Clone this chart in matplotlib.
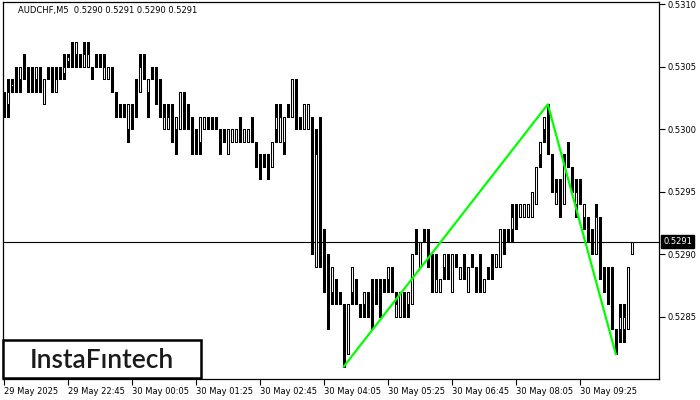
import numpy as np
import matplotlib.pyplot as plt
from matplotlib.patches import Rectangle

# AUDCHF M5 bars (bar 0 = 29 May 21:25)
opens = [
    0.53030, 0.53020, 0.53035, 0.53050, 0.53040, 0.53060, 0.53040, 0.53045, 0.53040, 0.53040,
    0.53020, 0.53050, 0.53050, 0.53030, 0.53050, 0.53045, 0.53055, 0.53070, 0.53060, 0.53060,
    0.53050, 0.53050, 0.53050, 0.53060, 0.53060, 0.53040, 0.53040, 0.53040, 0.53020, 0.53010,
    0.53020, 0.53000, 0.53010, 0.53020, 0.53030, 0.53040, 0.53030, 0.53050, 0.53040, 0.53040,
    0.53000, 0.53000, 0.53020, 0.53000, 0.53000, 0.53020, 0.53000, 0.53010, 0.52990, 0.52990,
    0.53000, 0.53010, 0.53010, 0.53010, 0.52990, 0.53000, 0.52980, 0.52990, 0.52990, 0.53010,
    0.52990, 0.52990, 0.52995, 0.52980, 0.52975, 0.52980, 0.52970, 0.52970, 0.53000, 0.52990,
    0.52990, 0.53020, 0.53010, 0.53030, 0.53010, 0.53000, 0.53000, 0.53000, 0.52890, 0.52990,
    0.52920, 0.52900, 0.52870, 0.52880, 0.52870, 0.52860, 0.52820, 0.52870, 0.52880, 0.52860,
    0.52860, 0.52860, 0.52870, 0.52880, 0.52870, 0.52880, 0.52880, 0.52880, 0.52850, 0.52850,
    0.52860, 0.52860, 0.52860, 0.52910, 0.52890, 0.52920, 0.52920, 0.52900, 0.52870, 0.52870,
    0.52890, 0.52890, 0.52870, 0.52890, 0.52880, 0.52900, 0.52870, 0.52900, 0.52880, 0.52890,
    0.52870, 0.52890, 0.52900, 0.52890, 0.52890, 0.52910, 0.52910, 0.52920, 0.52940, 0.52930,
    0.52930, 0.52930, 0.52930, 0.52940, 0.52980, 0.53000, 0.53000, 0.52970, 0.52940, 0.52960,
    0.52940, 0.52980, 0.52970, 0.52940, 0.52960, 0.52930, 0.52930, 0.52920, 0.52900, 0.52920,
    0.52880, 0.52870, 0.52860, 0.52830, 0.52840, 0.52840, 0.52840, 0.52900,
]
highs = [
    0.53030, 0.53040, 0.53040, 0.53050, 0.53050, 0.53060, 0.53050, 0.53050, 0.53050, 0.53050,
    0.53040, 0.53050, 0.53050, 0.53050, 0.53050, 0.53060, 0.53060, 0.53070, 0.53070, 0.53060,
    0.53070, 0.53070, 0.53050, 0.53060, 0.53060, 0.53060, 0.53050, 0.53050, 0.53030, 0.53020,
    0.53020, 0.53020, 0.53020, 0.53040, 0.53060, 0.53060, 0.53040, 0.53050, 0.53050, 0.53040,
    0.53020, 0.53020, 0.53020, 0.53010, 0.53030, 0.53030, 0.53020, 0.53010, 0.53000, 0.53010,
    0.53010, 0.53010, 0.53010, 0.53010, 0.53000, 0.53000, 0.53000, 0.53000, 0.53000, 0.53010,
    0.53000, 0.53000, 0.53010, 0.52990, 0.52980, 0.52980, 0.52980, 0.52990, 0.53020, 0.53020,
    0.53010, 0.53020, 0.53040, 0.53040, 0.53010, 0.53020, 0.53020, 0.53010, 0.53000, 0.53010,
    0.52920, 0.52900, 0.52890, 0.52880, 0.52870, 0.52860, 0.52860, 0.52890, 0.52880, 0.52860,
    0.52870, 0.52870, 0.52880, 0.52880, 0.52880, 0.52880, 0.52890, 0.52890, 0.52870, 0.52870,
    0.52870, 0.52870, 0.52900, 0.52920, 0.52910, 0.52920, 0.52920, 0.52900, 0.52900, 0.52880,
    0.52900, 0.52900, 0.52900, 0.52900, 0.52890, 0.52900, 0.52890, 0.52900, 0.52890, 0.52900,
    0.52880, 0.52890, 0.52900, 0.52900, 0.52920, 0.52920, 0.52920, 0.52940, 0.52940, 0.52940,
    0.52940, 0.52940, 0.52950, 0.52970, 0.52990, 0.53010, 0.53020, 0.52980, 0.52960, 0.52960,
    0.52980, 0.52990, 0.52970, 0.52960, 0.52960, 0.52940, 0.52930, 0.52920, 0.52940, 0.52930,
    0.52890, 0.52890, 0.52890, 0.52840, 0.52860, 0.52860, 0.52890, 0.52910,
]
lows = [
    0.53010, 0.53010, 0.53030, 0.53030, 0.53030, 0.53040, 0.53030, 0.53030, 0.53030, 0.53030,
    0.53020, 0.53040, 0.53030, 0.53030, 0.53040, 0.53040, 0.53050, 0.53050, 0.53050, 0.53050,
    0.53050, 0.53050, 0.53040, 0.53050, 0.53050, 0.53040, 0.53040, 0.53030, 0.53010, 0.53010,
    0.53010, 0.52990, 0.53000, 0.53010, 0.53030, 0.53040, 0.53010, 0.53040, 0.53020, 0.53010,
    0.53000, 0.53000, 0.52990, 0.52980, 0.53000, 0.53000, 0.53000, 0.52980, 0.52980, 0.52980,
    0.53000, 0.53000, 0.53000, 0.53000, 0.52980, 0.52990, 0.52980, 0.52990, 0.52990, 0.52990,
    0.52990, 0.52990, 0.52990, 0.52970, 0.52960, 0.52970, 0.52960, 0.52970, 0.52990, 0.52990,
    0.52980, 0.53010, 0.53010, 0.53000, 0.53000, 0.53000, 0.53000, 0.52900, 0.52890, 0.52890,
    0.52870, 0.52840, 0.52860, 0.52860, 0.52860, 0.52810, 0.52820, 0.52860, 0.52860, 0.52850,
    0.52850, 0.52850, 0.52840, 0.52860, 0.52850, 0.52870, 0.52870, 0.52870, 0.52850, 0.52850,
    0.52850, 0.52850, 0.52860, 0.52900, 0.52890, 0.52910, 0.52890, 0.52870, 0.52870, 0.52870,
    0.52880, 0.52880, 0.52870, 0.52890, 0.52880, 0.52880, 0.52870, 0.52890, 0.52870, 0.52870,
    0.52870, 0.52880, 0.52880, 0.52890, 0.52890, 0.52900, 0.52910, 0.52910, 0.52920, 0.52930,
    0.52930, 0.52930, 0.52930, 0.52940, 0.52970, 0.52990, 0.52980, 0.52950, 0.52940, 0.52930,
    0.52940, 0.52970, 0.52950, 0.52930, 0.52940, 0.52920, 0.52910, 0.52900, 0.52900, 0.52880,
    0.52870, 0.52860, 0.52840, 0.52820, 0.52830, 0.52830, 0.52840, 0.52900,
]
closes = [
    0.53010, 0.53030, 0.53036, 0.53030, 0.53050, 0.53050, 0.53040, 0.53040, 0.53050, 0.53030,
    0.53040, 0.53040, 0.53040, 0.53040, 0.53040, 0.53050, 0.53058, 0.53050, 0.53070, 0.53060,
    0.53060, 0.53060, 0.53050, 0.53050, 0.53050, 0.53050, 0.53050, 0.53030, 0.53020, 0.53010,
    0.53010, 0.53020, 0.53010, 0.53020, 0.53050, 0.53040, 0.53040, 0.53040, 0.53020, 0.53010,
    0.53010, 0.53010, 0.53010, 0.53010, 0.53030, 0.53010, 0.53000, 0.52990, 0.52990, 0.53010,
    0.53010, 0.53010, 0.53000, 0.53000, 0.52990, 0.52990, 0.53000, 0.53000, 0.53000, 0.53000,
    0.53000, 0.53000, 0.52990, 0.52980, 0.52970, 0.52980, 0.52960, 0.52990, 0.53010, 0.53010,
    0.53010, 0.53020, 0.53040, 0.53000, 0.53010, 0.53020, 0.53020, 0.52900, 0.52980, 0.52890,
    0.52890, 0.52860, 0.52890, 0.52880, 0.52870, 0.52810, 0.52860, 0.52890, 0.52860, 0.52860,
    0.52870, 0.52860, 0.52870, 0.52880, 0.52860, 0.52880, 0.52890, 0.52870, 0.52860, 0.52870,
    0.52850, 0.52870, 0.52900, 0.52900, 0.52910, 0.52910, 0.52900, 0.52880, 0.52880, 0.52880,
    0.52900, 0.52880, 0.52900, 0.52890, 0.52890, 0.52880, 0.52890, 0.52890, 0.52880, 0.52880,
    0.52880, 0.52890, 0.52900, 0.52900, 0.52920, 0.52900, 0.52910, 0.52930, 0.52940, 0.52940,
    0.52940, 0.52940, 0.52950, 0.52970, 0.52990, 0.53010, 0.52980, 0.52950, 0.52950, 0.52950,
    0.52970, 0.52980, 0.52950, 0.52950, 0.52940, 0.52940, 0.52910, 0.52910, 0.52930, 0.52890,
    0.52880, 0.52860, 0.52840, 0.52830, 0.52850, 0.52850, 0.52890, 0.52910,
]

time_labels = ["29 May 2025", "29 May 22:45", "30 May 00:05", "30 May 01:25", "30 May 02:45",
               "30 May 04:05", "30 May 05:25", "30 May 06:45", "30 May 08:05", "30 May 09:25"]
label_bars = [0, 16, 32, 48, 64, 80, 96, 112, 128, 144]
price_ticks = [0.5285, 0.5290, 0.5295, 0.5300, 0.5305, 0.5310]
last_price = 0.5291
header = "AUDCHF,M5  0.5290 0.5291 0.5290 0.5291"

# green pattern line (low - high - low)
pattern_bars = [85, 136, 153]
pattern_prices = [0.52810, 0.53020, 0.52820]

o = np.array(opens)
h = np.array(highs)
l = np.array(lows)
c = np.array(closes)
x = np.arange(len(c))

fig = plt.figure(figsize=(7, 4), dpi=100)
ax = fig.add_axes([3 / 700, 21 / 400, 656 / 700, 377 / 400])

ax.axhline(last_price, color="black", lw=0.8, zorder=1)

# wicks
ax.vlines(x, l, h, color="black", lw=0.75, zorder=2, antialiased=False)

# bodies
up = c > o
dn = c < o
eq = c == o
ax.bar(x[up], (c - o)[up], bottom=o[up], width=0.5, facecolor="white",
       edgecolor="black", linewidth=0.75, zorder=3)
ax.bar(x[dn], (o - c)[dn], bottom=c[dn], width=0.5, facecolor="black",
       edgecolor="black", linewidth=0.75, zorder=3)
ax.hlines(c[eq], x[eq] - 0.3, x[eq] + 0.3, color="black", lw=0.75, zorder=3)

ax.plot(pattern_bars, pattern_prices, color="#00ff00", lw=1.6, zorder=4)

ax.set_xlim(-0.2, 163.8)
ax.set_ylim(0.52800, 0.53102)

for s in ax.spines.values():
    s.set_linewidth(0.9)
    s.set_color("black")

ax.set_xticks(label_bars)
ax.set_xticklabels(time_labels, ha="left", fontsize=6)
ax.tick_params(axis="x", direction="out", length=4, width=0.8, pad=2)

ax.yaxis.tick_right()
ax.set_yticks(price_ticks)
ax.set_yticklabels([f"{p:.4f}" for p in price_ticks], fontsize=6)
ax.tick_params(axis="y", direction="out", length=4, width=0.8, pad=2)

# current price box
ax.annotate(f"{last_price:.4f}", xy=(1.0, last_price), xycoords=("axes fraction", "data"),
            xytext=(3, 0), textcoords="offset points", fontsize=6, color="white",
            va="center", ha="left",
            bbox=dict(boxstyle="square,pad=0.25", facecolor="black", edgecolor="black"))

fig.text(18 / 700, 1 - 11 / 400, header, fontsize=6, va="center", ha="left")

# logo
fig.patches.append(Rectangle((3 / 700, 22 / 400), 198 / 700, 38 / 400, transform=fig.transFigure,
                             facecolor="white", edgecolor="black", linewidth=1.8, zorder=5))
fig.text(102 / 700, 1 - 360 / 400, "InstaF\u0131ntech", fontsize=19, color="#1a1a1a",
         family="Lato", weight="semibold", ha="center", va="center", zorder=6)

fig.savefig("out.png", dpi=100)
